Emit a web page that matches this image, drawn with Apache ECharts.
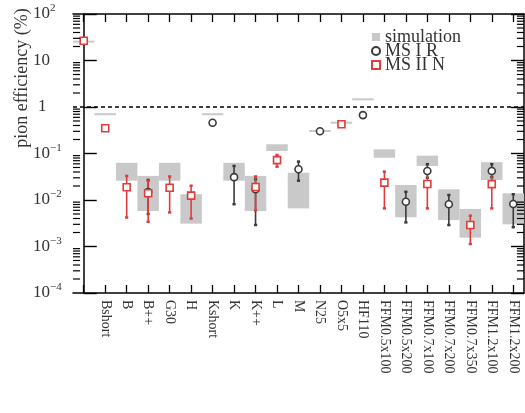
<!DOCTYPE html>
<html>
<head>
<meta charset="utf-8">
<script src="https://cdn.jsdelivr.net/npm/echarts@6/dist/echarts.min.js"></script>
<style>
  html, body { margin: 0; padding: 0; background: #fff; }
  #chart { width: 525px; height: 413px; }
</style>
</head>
<body>
<div id="chart"></div>
<script>
// 类别
const categories = ['', 'Bshort', 'B', 'B++', 'G30', 'H', 'Kshort', 'K', 'K++', 'L', 'M', 'N25', 'O5x5', 'HF110',
  'FFM0.5x100', 'FFM0.5x200', 'FFM0.7x100', 'FFM0.7x200', 'FFM0.7x350', 'FFM1.2x100', 'FFM1.2x200']

// simulation 范围 (%)
const simLow = [24.5, 0.68, 0.026, 0.0058, 0.026, 0.0031, 0.68, 0.026, 0.0058, 0.113, 0.0066, 0.295, 0.45, 1.43,
  0.081, 0.00425, 0.054, 0.0037, 0.00155, 0.027, 0.003]
const simHigh = [26.5, 0.72, 0.063, 0.033, 0.063, 0.0133, 0.72, 0.063, 0.033, 0.158, 0.0386, 0.315, 0.47, 1.5,
  0.123, 0.021, 0.09, 0.017, 0.0064, 0.065, 0.0139]

// MS I R (圆点)
const msIValue = [null, null, null, 0.0148, null, null, 0.46, 0.031, 0.017, null, 0.046, 0.30, null, 0.67,
  null, 0.0092, 0.042, 0.0081, null, 0.042, 0.0082]
const msILow = [null, null, null, 0.005, null, null, null, 0.0081, 0.0029, null, 0.026, null, null, null,
  null, 0.0033, 0.03, 0.0029, null, 0.031, 0.0026]
const msIHigh = [null, null, null, 0.027, null, null, null, 0.054, 0.028, null, 0.067, null, null, null,
  null, 0.015, 0.059, 0.0128, null, 0.059, 0.0133]

// MS II N (方块)
const msIIValue = [26.5, 0.35, 0.0188, 0.014, 0.0184, 0.0124, null, null, 0.019, 0.072, null, null, 0.425, null,
  0.0236, null, 0.0221, null, 0.0029, 0.022, null]
const msIILow = [24, null, 0.0042, 0.0034, 0.0054, 0.004, null, null, 0.006, 0.052, null, null, null, null,
  0.0066, null, 0.0066, null, 0.00113, 0.0066, null]
const msIIHigh = [29, null, 0.033, 0.026, 0.032, 0.0203, null, null, 0.032, 0.093, null, null, null, null,
  0.0407, null, 0.042, null, 0.0046, 0.042, null]

const yMin = 1e-4
const yMax = 1e2

const FONT = 'Liberation Serif'
const RED = '#e23b3b'
const DARK = '#3a3a3a'

// 对数轴的次刻度 2..9 x 10^k
const minorTicks = []
for (let e = -4; e < 2; e++) {
  for (let m = 2; m <= 9; m++) minorTicks.push(m * Math.pow(10, e))
}

const pick = (vals, lows, highs) => {
  const out = []
  vals.forEach((v, i) => {
    if (v != null) out.push([i, v, lows ? lows[i] : null, highs ? highs[i] : null])
  })
  return out
}

const simData = simLow.map((lo, i) => [i, lo, simHigh[i]])
const msIData = pick(msIValue, msILow, msIHigh)
const msIIData = pick(msIIValue, msIILow, msIIHigh)

const renderSim = (params, api) => {
  const i = api.value(0)
  const top = api.coord([i, api.value(2)])
  const bot = api.coord([i, api.value(1)])
  const w = api.size([1, 0])[0]
  let h = bot[1] - top[1]
  let y = top[1]
  if (h < 2) { y = (top[1] + bot[1]) / 2 - 1; h = 2 }
  return {
    type: 'rect',
    shape: { x: top[0] - w / 2, y: y, width: w, height: h },
    style: { fill: '#c9c9c9' }
  }
}

const makeErr = (color) => (params, api) => {
  const lo = api.value(2)
  const hi = api.value(3)
  if (lo == null || hi == null || isNaN(lo) || isNaN(hi)) return null
  const i = api.value(0)
  const a = api.coord([i, hi])
  const b = api.coord([i, lo])
  const c = 1.6
  return {
    type: 'group',
    children: [
      { type: 'line', shape: { x1: a[0], y1: a[1], x2: b[0], y2: b[1] }, style: { stroke: color, lineWidth: 1.6 } },
      { type: 'line', shape: { x1: a[0] - c, y1: a[1], x2: a[0] + c, y2: a[1] }, style: { stroke: color, lineWidth: 2.5 } },
      { type: 'line', shape: { x1: b[0] - c, y1: b[1], x2: b[0] + c, y2: b[1] }, style: { stroke: color, lineWidth: 2.5 } }
    ]
  }
}

const yLabel = (v) => {
  const e = Math.round(Math.log10(v))
  if (e === 0) return '{one|1}'
  if (e === 1) return '{b|10}'
  return '{b|10}{s|' + (e < 0 ? '−' : '') + Math.abs(e) + '}'
}

const axisLine = { show: true, lineStyle: { color: '#000', width: 1.5 } }

// 次刻度: 隐藏的数值 x 轴 (-0.5 .. n-0.5) 上的短线, 每条一个 line series
const xLo = -0.5
const xHi = categories.length - 0.5
const tickLen = 0.33
const minorSeries = []
minorTicks.forEach((v) => {
  [[xLo, xLo + tickLen], [xHi - tickLen, xHi]].forEach((seg) => {
    minorSeries.push({
      type: 'line',
      xAxisIndex: 2,
      yAxisIndex: 0,
      data: [[seg[0], v], [seg[1], v]],
      symbol: 'none',
      silent: true,
      clip: false,
      lineStyle: { color: '#000', width: 1.2 },
      z: 10
    })
  })
})

const chart = echarts.init(document.getElementById('chart'))
chart.setOption({
  animation: false,
  textStyle: { fontFamily: FONT },
  grid: { left: 73, right: 1, top: 14, bottom: 120 },
  legend: {
    left: 366,
    top: 23,
    orient: 'vertical',
    itemWidth: 8,
    itemHeight: 8,
    itemGap: -4,
    textStyle: { fontFamily: FONT, fontSize: 18, color: '#333' },
    data: [
      { name: 'simulation', icon: 'rect', itemStyle: { color: '#c9c9c9' } },
      { name: 'MS I R', icon: 'circle' },
      { name: 'MS II N', icon: 'rect' }
    ]
  },
  graphic: [{
    type: 'text',
    x: 22,
    y: 78,
    rotation: Math.PI / 2,
    style: {
      text: 'pion efficiency (%)',
      font: '18px "Liberation Serif"',
      fill: '#333',
      align: 'center',
      verticalAlign: 'middle'
    }
  }],
  xAxis: [
    {
      type: 'category',
      data: categories,
      position: 'bottom',
      boundaryGap: true,
      axisLine: axisLine,
      axisTick: { show: true, inside: true, length: 8, alignWithLabel: true, interval: 0, lineStyle: { color: '#000', width: 1.3 } },
      axisLabel: { interval: 0, rotate: -90, margin: 7, fontFamily: FONT, fontSize: 14, color: '#333' },
      splitLine: { show: false }
    },
    {
      type: 'category',
      data: categories,
      position: 'top',
      boundaryGap: true,
      axisLine: axisLine,
      axisTick: { show: true, inside: true, length: 8, alignWithLabel: true, interval: 0, lineStyle: { color: '#000', width: 1.3 } },
      axisLabel: { show: false },
      splitLine: { show: false }
    },
    {
      type: 'value',
      min: xLo,
      max: xHi,
      show: false
    }
  ],
  yAxis: [
    {
      type: 'log',
      logBase: 10,
      min: yMin,
      max: yMax,
      position: 'left',
      axisLine: axisLine,
      axisTick: { show: true, inside: true, length: 13, lineStyle: { color: '#000', width: 1.4 } },
      axisLabel: {
        formatter: yLabel,
        align: 'left',
        margin: 40,
        color: '#333',
        rich: {
          b: { fontFamily: FONT, fontSize: 17, lineHeight: 22, color: '#333' },
          s: { fontFamily: FONT, fontSize: 11, lineHeight: 11, verticalAlign: 'top', color: '#333' },
          one: { fontFamily: FONT, fontSize: 17, lineHeight: 22, color: '#333', padding: [0, 0, 0, 5] }
        }
      },
      splitLine: { show: false }
    },
    {
      type: 'log',
      logBase: 10,
      min: yMin,
      max: yMax,
      position: 'right',
      axisLine: axisLine,
      axisTick: { show: true, inside: true, length: 13, lineStyle: { color: '#000', width: 1.4 } },
      axisLabel: { show: false },
      splitLine: { show: false }
    }
  ],
  series: [
    {
      name: 'simulation',
      type: 'custom',
      renderItem: renderSim,
      data: simData,
      encode: { x: 0, y: [1, 2] },
      z: 1,
      markLine: {
        silent: true,
        symbol: 'none',
        label: { show: false },
        lineStyle: { color: '#000', type: [4, 3], width: 1.5 },
        data: [{ yAxis: 1 }]
      }
    },
    {
      name: 'errI',
      type: 'custom',
      renderItem: makeErr(DARK),
      data: msIData,
      encode: { x: 0, y: [2, 3] },
      z: 3
    },
    {
      name: 'errII',
      type: 'custom',
      renderItem: makeErr(RED),
      data: msIIData,
      encode: { x: 0, y: [2, 3] },
      z: 4
    },
    {
      name: 'MS I R',
      type: 'scatter',
      symbol: 'circle',
      symbolSize: 7,
      data: msIData.map(d => [d[0], d[1]]),
      itemStyle: { color: '#fff', borderColor: DARK, borderWidth: 1.6, opacity: 1 },
      z: 6
    },
    {
      name: 'MS II N',
      type: 'scatter',
      symbol: 'rect',
      symbolSize: 7,
      data: msIIData.map(d => [d[0], d[1]]),
      itemStyle: { color: '#fff', borderColor: RED, borderWidth: 1.6, opacity: 1 },
      z: 7
    }
  ].concat(minorSeries)
})
</script>
</body>
</html>
